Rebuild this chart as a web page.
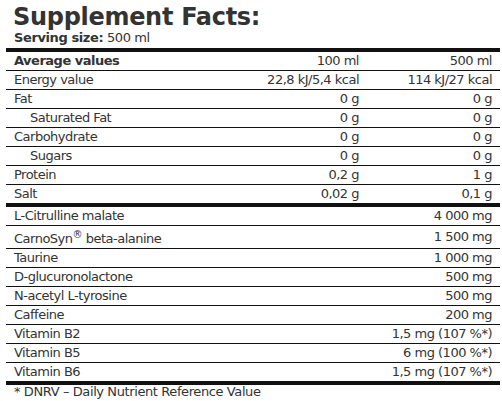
<!DOCTYPE html>
<html><head><meta charset="utf-8">
<script src="https://cdn.jsdelivr.net/npm/chart.js@4"></script>
<style>
body{margin:0;background:#fff;width:502px;height:401px;overflow:hidden;font-family:"DejaVu Sans",Verdana,sans-serif;color:#333;}
#wrap{position:absolute;left:6px;top:0;width:494px;}
h1{margin:0;position:absolute;left:7px;top:3px;font-size:24px;font-weight:bold;letter-spacing:-0.3px;color:#333;}
#serv{position:absolute;left:8px;top:30px;font-size:13px;letter-spacing:-0.4px;}
table{position:absolute;left:0;top:48px;width:494px;border-collapse:collapse;font-size:13px;letter-spacing:-0.5px;}
td{height:18px;padding:0;border-bottom:1px solid #111;line-height:18px;white-space:nowrap;}
td.n{padding-left:8px;}
td.r{text-align:right;padding-right:8px;}
tr.top td{border-top:4px solid #111;}
tr.sep td{border-bottom:4px solid #111;}
#foot{position:absolute;left:8px;top:384px;font-size:13px;letter-spacing:-0.4px;}
</style></head><body>
<div id="wrap">
<h1>Supplement Facts:</h1>
<div id="serv"><b>Serving size:</b> 500 ml</div>
<table id="t"></table>
<div id="foot">* DNRV – Daily Nutrient Reference Value</div>
</div>
<script>
const nutrients=["Energy value","Fat","Saturated Fat","Carbohydrate","Sugars","Protein","Salt"];
const indent=[false,false,true,false,true,false,false];
const per100=["22,8 kJ/5,4 kcal","0 g","0 g","0 g","0 g","0,2 g","0,02 g"];
const per500=["114 kJ/27 kcal","0 g","0 g","0 g","0 g","1 g","0,1 g"];
const actives=["L-Citrulline malate","CarnoSyn<sup style='font-size:10px'>®</sup> beta-alanine","Taurine","D-glucuronolactone","N-acetyl L-tyrosine","Caffeine","Vitamin B2","Vitamin B5","Vitamin B6"];
const activeAmounts=["4 000 mg","1 500 mg","1 000 mg","500 mg","500 mg","200 mg","1,5 mg (107 %*)","6 mg (100 %*)","1,5 mg (107 %*)"];
let h='<tr class="top"><td class="n"><b>Average values</b></td><td class="r">100 ml</td><td class="r">500 ml</td></tr>';
nutrients.forEach((n,i)=>{h+=`<tr${i==nutrients.length-1?' class="sep"':''}><td class="n"${indent[i]?' style="padding-left:24px"':''}>${n}</td><td class="r" style="width:140px">${per100[i]}</td><td class="r" style="width:125px">${per500[i]}</td></tr>`;});
actives.forEach((n,i)=>{h+=`<tr${i==actives.length-1?' class="sep"':''}><td class="n" colspan="2">${n}</td><td class="r">${activeAmounts[i]}</td></tr>`;});
document.getElementById('t').innerHTML=h;
</script>
</body></html>
